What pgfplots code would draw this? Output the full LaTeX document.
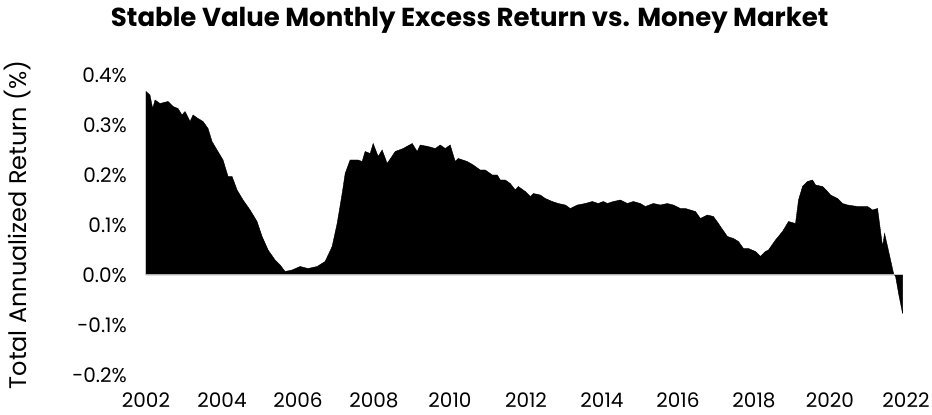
\documentclass[border=0pt]{standalone}
\usepackage{fontspec}
\setmainfont{Poppins}
\usepackage{pgfplots}
\pgfplotsset{compat=1.18}
\usepackage{pgfplotstable}

% monthly excess return
\pgfplotstableread{
x y
2002.00 0.367
2002.105 0.360
2002.176 0.333
2002.237 0.350
2002.369 0.343
2002.579 0.347
2002.711 0.337
2002.843 0.333
2002.948 0.320
2003.027 0.327
2003.159 0.307
2003.238 0.320
2003.370 0.313
2003.501 0.307
2003.633 0.293
2003.738 0.267
2003.870 0.250
2004.028 0.230
2004.160 0.197
2004.265 0.197
2004.397 0.170
2004.555 0.150
2004.739 0.130
2004.923 0.107
2005.055 0.077
2005.213 0.050
2005.397 0.030
2005.529 0.020
2005.660 0.007
2005.845 0.010
2006.056 0.017
2006.266 0.013
2006.503 0.017
2006.714 0.027
2006.898 0.057
2007.030 0.103
2007.162 0.163
2007.241 0.203
2007.372 0.230
2007.583 0.230
2007.688 0.227
2007.767 0.247
2007.899 0.243
2007.978 0.263
2008.110 0.237
2008.215 0.250
2008.347 0.223
2008.558 0.247
2008.768 0.253
2009.006 0.263
2009.137 0.247
2009.216 0.260
2009.427 0.257
2009.611 0.253
2009.743 0.260
2009.875 0.253
2010.006 0.260
2010.138 0.227
2010.217 0.233
2010.454 0.227
2010.612 0.220
2010.796 0.210
2010.928 0.210
2011.112 0.200
2011.244 0.200
2011.323 0.190
2011.455 0.190
2011.586 0.183
2011.718 0.170
2011.797 0.177
2011.981 0.167
2012.113 0.157
2012.192 0.163
2012.376 0.160
2012.508 0.153
2012.692 0.147
2012.850 0.143
2013.035 0.140
2013.166 0.133
2013.351 0.140
2013.561 0.143
2013.746 0.147
2013.904 0.143
2014.035 0.147
2014.141 0.143
2014.299 0.147
2014.483 0.150
2014.667 0.143
2014.826 0.147
2015.010 0.143
2015.142 0.137
2015.352 0.143
2015.537 0.140
2015.721 0.143
2015.879 0.140
2016.063 0.133
2016.195 0.133
2016.327 0.130
2016.459 0.127
2016.590 0.113
2016.775 0.120
2016.933 0.117
2017.064 0.103
2017.117 0.097
2017.301 0.077
2017.459 0.073
2017.591 0.067
2017.723 0.053
2017.855 0.053
2018.039 0.047
2018.171 0.037
2018.302 0.047
2018.381 0.050
2018.566 0.070
2018.750 0.087
2018.908 0.107
2019.092 0.103
2019.171 0.150
2019.277 0.177
2019.408 0.187
2019.540 0.190
2019.619 0.180
2019.803 0.177
2019.935 0.167
2020.014 0.160
2020.198 0.153
2020.330 0.143
2020.462 0.140
2020.725 0.137
2020.989 0.137
2021.120 0.130
2021.252 0.133
2021.304 0.103
2021.383 0.057
2021.436 0.083
2021.515 0.057
2021.594 0.030
2021.673 0.003
2021.726 -0.003
2021.805 -0.037
2021.910 -0.077
}\excess

\begin{document}
\begin{tikzpicture}
\useasboundingbox (-146pt,-40pt) rectangle (786pt,375pt);
\begin{axis}[
    scale only axis,
    width=760pt, height=300pt,
    xmin=2002, xmax=2022,
    ymin=-0.2, ymax=0.4,
    xtick={2002,2004,...,2022},
    xticklabels={2002,2004,2006,2008,2010,2012,2014,2016,2018,2020,2022},
    ytick={-0.2,-0.1,0,0.1,0.2,0.3,0.4},
    yticklabels={-0.2\%,-0.1\%,0.0\%,0.1\%,0.2\%,0.3\%,0.4\%},
    axis line style={draw=none},
    major tick length=0pt,
    tick label style={font=\fontsize{20}{24}\selectfont},
    yticklabel style={anchor=east, inner sep=0pt, xshift=-19pt},
    xticklabel style={anchor=base, inner sep=0pt, text depth=0pt, yshift=-32pt},
    title={Stable Value Monthly Excess Return vs. Money Market},
    title style={font=\fontsize{26}{30}\selectfont\bfseries,
        at={(axis description cs:0.426,1)}, anchor=base, yshift=42pt},
    ylabel={Total Annualized Return (\%)},
    ylabel style={font=\fontsize{24}{28}\selectfont,
        at={(axis description cs:-0.1684,0.5)}, anchor=center},
]
\addplot[fill=black, draw=black, line width=0.4pt] table[x=x, y=y] {\excess} \closedcycle;
\addplot[draw=gray!60, line width=1pt] coordinates {(2002,0) (2021.7,0)};
\end{axis}
\end{tikzpicture}
\end{document}
